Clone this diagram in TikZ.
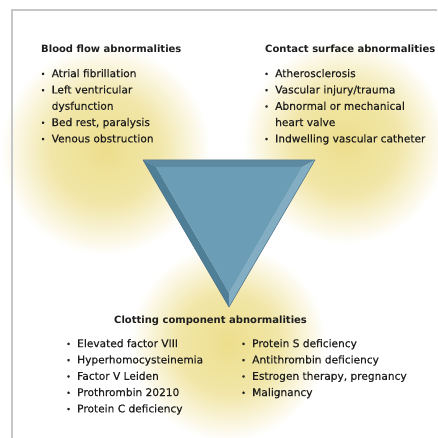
\documentclass[tikz,border=0pt]{standalone}
\usepackage{fontspec}
\setmainfont{DejaVu Sans}
\newfontfamily\listfont[FakeBold=0.35]{DejaVu Sans}
\usepackage{tikz}

\definecolor{glowyellow}{HTML}{EDDE8C}
\definecolor{triface}{HTML}{6B9DB7}
\definecolor{tritop}{HTML}{5D89A1}
\definecolor{trileft}{HTML}{4F7E97}
\definecolor{triright}{HTML}{82ADC2}
\definecolor{triedge}{HTML}{4A7088}
\definecolor{frameline}{HTML}{C6C6C6}
\definecolor{ink}{HTML}{1E1E1E}

\pgfdeclareradialshading{glow}{\pgfpoint{0bp}{0bp}}{color(0bp)=(glowyellow);
  color(13bp)=(glowyellow!75!white); color(25bp)=(white); color(50bp)=(white)}
\newcommand{\blt}{\makebox[11pt][l]{\fontsize{8}{8}\selectfont\raisebox{0.3pt}{•}}}
\newcommand{\nob}{\hspace*{11pt}}

\begin{document}
\begin{tikzpicture}[x=1pt,y=-1pt,
    head/.style={font=\fontsize{10}{12}\selectfont\bfseries, text=ink,
      inner sep=0pt, anchor=base west},
    itemlist/.style={font=\listfont\fontsize{10.6}{16.3}\selectfont, text=ink,
      inner sep=0pt, align=left, anchor=north west}]
    \useasboundingbox (0,0) rectangle (437,438) ;
    % yellow glows behind the three groups
    \foreach \cx/\cy/\r in {105/150/105, 345/142/102, 228/343/98} {
      \shade[shading=glow] (\cx,\cy) circle (\r) ;
    }
    % bevelled triangle
    \coordinate (A) at (143,160) ; \coordinate (B) at (315,160) ;
    \coordinate (C) at (229,307) ;
    \coordinate (a) at (156,167) ; \coordinate (b) at (302,167) ;
    \coordinate (c) at (229,293) ;
    \fill[tritop] (A) -- (B) -- (b) -- (a) -- cycle ;
    \fill[trileft] (A) -- (a) -- (c) -- (C) -- cycle ;
    \fill[triright] (B) -- (C) -- (c) -- (b) -- cycle ;
    \fill[triface] (a) -- (b) -- (c) -- cycle ;
    \draw[triedge, line width=0.5pt, line join=round] (A) -- (B) -- (C) -- cycle ;
    % frame
    \draw[frameline, line width=1.2pt] (437,10) -- (12,10) -- (12,438) ;
    % texts
    \node[head] (bloodhead) at (41,53) {Blood flow abnormalities} ;
    \node[itemlist] (bloodlist) at (40.5,68.9) {\blt Atrial fibrillation\\
      \blt Left ventricular\\ \nob dysfunction\\ \blt Bed rest, paralysis\\
      \blt Venous obstruction} ;
    \node[head] (contacthead) at (265,53) {Contact surface abnormalities} ;
    \node[itemlist] (contactlist) at (264,68.9) {\blt Atherosclerosis\\
      \blt Vascular injury/trauma\\ \blt Abnormal or mechanical\\
      \nob heart valve\\ \blt Indwelling vascular catheter} ;
    \node[head] (clothead) at (114,323) {Clotting component abnormalities} ;
    \node[itemlist] (clotleft) at (66,338.9) {\blt Elevated factor VIII\\
      \blt Hyperhomocysteinemia\\ \blt Factor V Leiden\\
      \blt Prothrombin 20210\\ \blt Protein C deficiency} ;
    \node[itemlist] (clotright) at (241,338.9) {\blt Protein S deficiency\\
      \blt Antithrombin deficiency\\ \blt Estrogen therapy, pregnancy\\
      \blt Malignancy} ;
  \end{tikzpicture}
\end{document}
